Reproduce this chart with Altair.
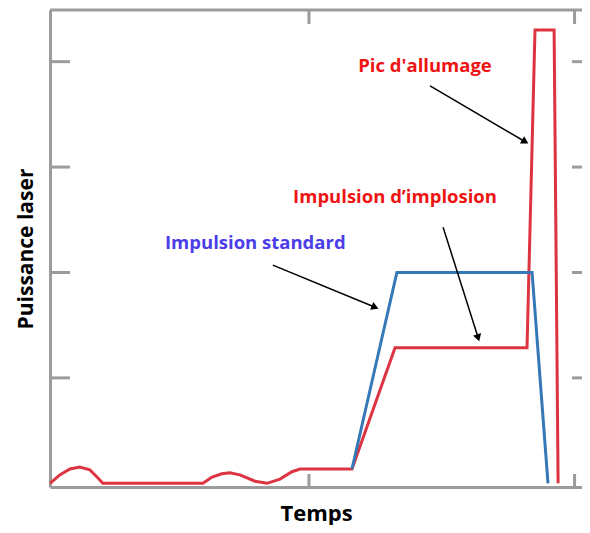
import math
import altair as alt
import pandas as pd

# ---- data ----
red_t = [0.25, 0.62, 1.00, 1.37, 1.75, 2.02, 2.24, 6.01, 6.35, 6.72, 7.02, 7.40, 7.97, 8.42,
         8.91, 9.36, 9.66, 11.62, 13.24, 18.21, 18.51, 19.23, 19.38]
red_p = [0.00, 0.08, 0.136, 0.155, 0.127, 0.06, 0.00, 0.00, 0.06, 0.09, 0.10, 0.08, 0.02, 0.00,
         0.04, 0.11, 0.136, 0.136, 1.285, 1.285, 4.30, 4.30, 0.00]
blue_t = [11.62, 13.31, 18.40, 19.00]
blue_p = [0.136, 2.00, 2.00, 0.00]

y_ticks = [1, 2, 3, 4]
x_ticks = [10, 20]

labels = ["Pic d'allumage", "Impulsion d\u2019implosion", "Impulsion standard"]
label_t = [14.37, 13.24, 7.98]
label_p = [3.905, 2.66, 2.225]
label_col = ["#ee1414", "#ee1414", "#4b3ee8"]

arrow_t1 = [14.56, 15.05, 8.64]
arrow_p1 = [3.77, 2.43, 2.07]
arrow_t2 = [18.14, 16.37, 12.49]
arrow_p2 = [3.24, 1.38, 1.67]

X_DOM = [0.25, 20.28]
Y_DOM = [-0.035, 4.49]
W, H = 532, 477
GRAY = "#9b9b9b"

xs = alt.Scale(domain=X_DOM, nice=False, zero=False)
ys = alt.Scale(domain=Y_DOM, nice=False, zero=False)

df_red = pd.DataFrame({"t": red_t, "p": red_p, "o": range(len(red_t))})
df_blue = pd.DataFrame({"t": blue_t, "p": blue_p, "o": range(len(blue_t))})

px_x = W / (X_DOM[1] - X_DOM[0])
px_y = H / (Y_DOM[1] - Y_DOM[0])
angles = []
for a, b, c, d in zip(arrow_t1, arrow_p1, arrow_t2, arrow_p2):
    dx = (c - a) * px_x
    dy = (d - b) * px_y
    angles.append(math.degrees(math.atan2(dx, dy)) % 360)
df_arr = pd.DataFrame({"t1": arrow_t1, "p1": arrow_p1, "t2": arrow_t2, "p2": arrow_p2, "ang": angles})
df_lab = pd.DataFrame({"lab": labels, "t": label_t, "p": label_p, "c": label_col})
df_yt = pd.DataFrame({"p": y_ticks})
df_xt = pd.DataFrame({"t": x_ticks})
df_top = pd.DataFrame({"t1": [X_DOM[0]], "t2": [X_DOM[1]], "p": [Y_DOM[1]]})

x_bottom = alt.X("t:Q", scale=xs, axis=alt.Axis(title="Temps", labels=False, ticks=False, grid=False,
                                                  domainColor=GRAY, domainWidth=3, titleFontSize=22,
                                                  titleFont="Open Sans", titleFontWeight="bold",
                                                  titlePadding=16, titleColor="black"))
y_left = alt.Y("p:Q", scale=ys, axis=alt.Axis(title="Puissance laser", labels=False, ticks=False, grid=False,
                                                domainColor=GRAY, domainWidth=3, titleFontSize=21,
                                                titleFont="Open Sans", titleFontWeight="bold",
                                                titlePadding=14, titleColor="black"))

red = alt.Chart(df_red).mark_line(color="#dc3440", strokeWidth=3).encode(x=x_bottom, y=y_left, order="o:Q")
blue = alt.Chart(df_blue).mark_line(color="#3478b8", strokeWidth=3).encode(
    x=alt.X("t:Q", scale=xs), y=alt.Y("p:Q", scale=ys), order="o:Q")

top_border = alt.Chart(df_top).mark_rule(color=GRAY, strokeWidth=3).encode(
    x=alt.X("t1:Q", scale=xs), x2="t2:Q", y=alt.Y("p:Q", scale=ys))
top_ticks = alt.Chart(df_xt).mark_rule(color=GRAY, strokeWidth=3).encode(
    x=alt.X("t:Q", scale=xs), y=alt.value(0), y2=alt.value(14))
bottom_ticks = alt.Chart(df_xt).mark_rule(color=GRAY, strokeWidth=3).encode(
    x=alt.X("t:Q", scale=xs), y=alt.value(H - 13), y2=alt.value(H))
left_ticks = alt.Chart(df_yt).mark_rule(color=GRAY, strokeWidth=3).encode(
    y=alt.Y("p:Q", scale=ys), x=alt.value(0), x2=alt.value(20))
right_ticks = alt.Chart(df_yt).mark_rule(color=GRAY, strokeWidth=3).encode(
    y=alt.Y("p:Q", scale=ys), x=alt.value(W - 10), x2=alt.value(W))

arrows = alt.Chart(df_arr).mark_rule(color="black", strokeWidth=1.5).encode(
    x=alt.X("t1:Q", scale=xs), y=alt.Y("p1:Q", scale=ys), x2="t2:Q", y2="p2:Q")
heads = alt.Chart(df_arr).mark_point(shape="triangle-up", filled=True, color="black", size=70, opacity=1).encode(
    x=alt.X("t2:Q", scale=xs), y=alt.Y("p2:Q", scale=ys), angle=alt.Angle("ang:Q", scale=None))

texts = alt.Chart(df_lab).mark_text(font="Open Sans", fontWeight="bold", fontSize=18.5,
                                    align="center", baseline="alphabetic").encode(
    x=alt.X("t:Q", scale=xs), y=alt.Y("p:Q", scale=ys), text="lab:N",
    color=alt.Color("c:N", scale=None))

chart = alt.layer(red, top_border, top_ticks, bottom_ticks, left_ticks, right_ticks, blue,
                  arrows, heads, texts).properties(
    width=W, height=H, padding={"left": 42, "top": 2, "right": 0, "bottom": 38},
    autosize=alt.AutoSizeParams(type="none"),
    background="white",
).configure_view(stroke=None)

chart.save("out.html", embed_options={"renderer": "svg", "actions": False})
